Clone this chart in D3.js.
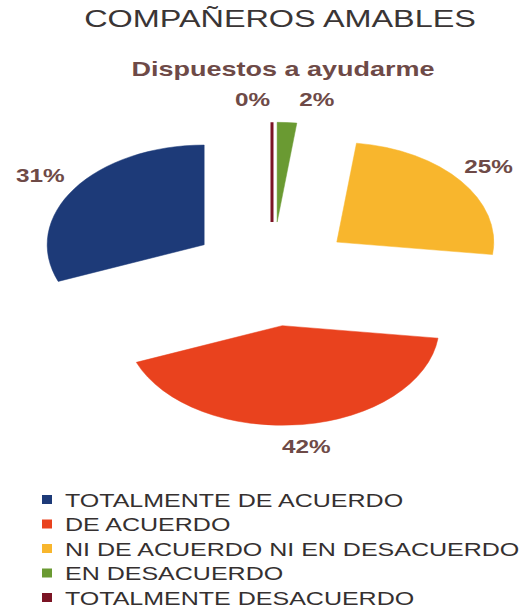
<!DOCTYPE html>
<html>
<head>
<meta charset="utf-8">
<script src="https://cdn.jsdelivr.net/npm/d3@7"></script>
<style>
  html, body { margin: 0; padding: 0; background: #fff; }
  text { font-family: "Liberation Sans", Arial, sans-serif; }
</style>
</head>
<body>
<div id="chart"></div>
<script>
// chart data
const title = "COMPAÑEROS AMABLES";
const subtitle = "Dispuestos a ayudarme";
const categories = [
  "TOTALMENTE DE ACUERDO",
  "DE ACUERDO",
  "NI DE ACUERDO NI EN DESACUERDO",
  "EN DESACUERDO",
  "TOTALMENTE DESACUERDO"
];
const values = [31, 42, 25, 2, 0];
const colors = ["#1d3a78", "#e9421e", "#f8b62d", "#6a9a32", "#7b1424"];

const width = 528, height = 612;
const cx = 272, cy = 274;
const radius = 157, tilt = 0.635, explode = 82, labelRadius = 274;
const stretch = 1.35; // the scanned text is wide

const svg = d3.select("#chart")
  .append("svg")
  .attr("width", width)
  .attr("height", height);

function wideText(x, y, str) {
  return svg.append("text")
    .attr("transform", "translate(" + x + "," + y + ") scale(" + stretch + ",1)")
    .text(str);
}

wideText(280, 27, title)
  .attr("text-anchor", "middle")
  .style("font-size", "24px")
  .style("fill", "#3a3535");

wideText(283, 76, subtitle)
  .attr("text-anchor", "middle")
  .style("font-size", "20px")
  .style("font-weight", "bold")
  .style("fill", "#6e4a47");

// pie goes counter-clockwise from 12 o'clock
let pie = d3.pie()
  .sort(null)
  .startAngle(0)
  .endAngle(-2 * Math.PI)
  .value(function(d) { return d; });

let arcs = pie(values);

let arc = d3.arc()
  .innerRadius(0)
  .outerRadius(radius);

let pieG = svg.append("g")
  .attr("transform", "translate(" + cx + "," + cy + ") scale(1," + tilt + ")");

function midAngle(d) {
  return (d.startAngle + d.endAngle) / 2;
}

pieG.selectAll("path")
  .data(arcs)
  .enter().append("path")
  .attr("transform", function(d) {
    let a = midAngle(d);
    return "translate(" + (explode * Math.sin(a)) + "," + (-explode * Math.cos(a)) + ")";
  })
  .attr("d", function(d) { return arc(d); })
  .attr("fill", function(d, i) { return colors[i]; })
  .attr("stroke", function(d, i) { return colors[i]; })
  .attr("stroke-width", function(d) { return d.value === 0 ? 3 : 0.5; })
  .attr("vector-effect", "non-scaling-stroke");

// percent labels
arcs.forEach(function(d, i) {
  let a = midAngle(d);
  let x = cx + labelRadius * Math.sin(a);
  let y = cy - labelRadius * Math.cos(a) * tilt + 6;
  let anchor = "middle";
  if (d.value === 0) { anchor = "end"; x -= 2; }
  else if (d.value < 5) { anchor = "start"; x += 10; }
  if (i === 0) x -= 5;
  wideText(x, y, d.value + "%")
    .attr("text-anchor", anchor)
    .style("font-size", "18px")
    .style("font-weight", "bold")
    .style("fill", "#6e4a47");
});

// legend
let legend = svg.append("g").attr("transform", "translate(42,500)");
categories.forEach(function(c, i) {
  let row = legend.append("g").attr("transform", "translate(0," + (i * 24.5) + ")");
  row.append("rect")
    .attr("x", 0).attr("y", -5)
    .attr("width", 10).attr("height", 9)
    .attr("fill", colors[i]);
  row.append("text")
    .attr("transform", "translate(23,6.5) scale(1.39,1)")
    .style("font-size", "18px")
    .style("fill", "#353030")
    .text(c);
});
</script>
</body>
</html>
